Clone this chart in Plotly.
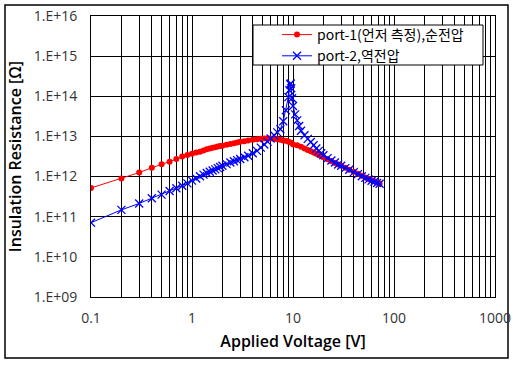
import plotly.graph_objects as go

# ---------------- data ----------------
port1_v = [0.1, 0.2, 0.3, 0.4, 0.5, 0.6, 0.7, 0.8, 0.9, 1.0,
           1.1, 1.2, 1.3, 1.4, 1.5, 1.6, 1.7, 1.8, 1.9, 2.0,
           2.2, 2.4, 2.6, 2.8, 3.0, 3.3, 3.6, 4.0, 4.4, 4.8,
           5.2, 5.6, 6.0, 6.5, 7.0, 7.5, 8.0, 8.5, 9.0, 9.5,
           10, 11, 12, 13, 14, 15, 16, 17, 18, 19,
           20, 22, 24, 26, 28, 30, 33, 36, 40, 44,
           48, 52, 56, 60, 64, 68, 72]
port1_r = [5.2e11, 8.9e11, 1.26e12, 1.66e12, 2.04e12, 2.34e12, 2.75e12, 3.16e12, 3.47e12, 3.72e12,
           3.98e12, 4.17e12, 4.47e12, 4.79e12, 5.01e12, 5.25e12, 5.37e12, 5.62e12, 5.75e12, 5.89e12,
           6.17e12, 6.46e12, 6.76e12, 7.08e12, 7.41e12, 7.59e12, 7.94e12, 8.32e12, 8.51e12, 8.71e12,
           8.91e12, 8.91e12, 8.91e12, 8.71e12, 8.51e12, 8.32e12, 7.94e12, 7.76e12, 7.41e12, 7.08e12,
           6.31e12, 6.03e12, 5.50e12, 5.01e12, 4.57e12, 4.27e12, 3.98e12, 3.72e12, 3.47e12, 3.24e12,
           3.02e12, 2.69e12, 2.40e12, 2.19e12, 2.00e12, 1.86e12, 1.66e12, 1.48e12, 1.32e12, 1.17e12,
           1.05e12, 9.5e11, 8.7e11, 8.1e11, 7.6e11, 7.1e11, 6.6e11]

port2_v = [0.1, 0.2, 0.3, 0.4, 0.5, 0.6, 0.7, 0.8, 0.9, 1.0,
           1.1, 1.2, 1.3, 1.4, 1.5, 1.6, 1.7, 1.8, 1.9, 2.0,
           2.2, 2.4, 2.6, 2.8, 3.0, 3.3, 3.6, 4.0, 4.4, 4.8,
           5.2, 5.6, 6.0, 6.5, 7.0, 7.5, 8.0, 8.5, 9.0, 9.2,
           9.4, 9.5, 9.6, 9.8, 10.0, 10.5, 11, 11.5, 12, 13,
           14, 15, 16, 17, 18, 19, 20, 22, 24, 26,
           28, 30, 33, 36, 40, 44, 48, 52, 56, 60,
           64, 68, 72]
port2_r = [7.1e10, 1.48e11, 2.14e11, 2.88e11, 3.55e11, 4.37e11, 5.13e11, 5.89e11, 6.76e11, 7.94e11,
           8.91e11, 1.02e12, 1.12e12, 1.23e12, 1.32e12, 1.41e12, 1.51e12, 1.62e12, 1.74e12, 1.86e12,
           2.04e12, 2.24e12, 2.40e12, 2.57e12, 2.75e12, 3.02e12, 3.31e12, 3.80e12, 4.37e12, 5.25e12,
           6.31e12, 7.41e12, 8.91e12, 1.07e13, 1.26e13, 1.51e13, 2.40e13, 4.47e13, 9.55e13, 1.41e14,
           2.00e14, 2.09e14, 1.58e14, 8.91e13, 5.75e13, 3.55e13, 2.51e13, 1.82e13, 1.38e13, 1.07e13,
           8.71e12, 7.24e12, 6.03e12, 5.01e12, 4.37e12, 3.80e12, 3.39e12, 2.88e12, 2.51e12, 2.24e12,
           2.00e12, 1.86e12, 1.62e12, 1.48e12, 1.29e12, 1.15e12, 1.02e12, 9.3e11, 8.5e11, 7.9e11,
           7.4e11, 6.9e11, 6.6e11]

x_tick_vals = [0.1, 0.2, 0.3, 0.4, 0.5, 0.6, 0.7, 0.8, 0.9,
               1, 2, 3, 4, 5, 6, 7, 8, 9,
               10, 20, 30, 40, 50, 60, 70, 80, 90,
               100, 200, 300, 400, 500, 600, 700, 800, 900, 1000]
x_tick_text = ["0.1", "", "", "", "", "", "", "", "",
               "1", "", "", "", "", "", "", "", "",
               "10", "", "", "", "", "", "", "", "",
               "100", "", "", "", "", "", "", "", "", "1000"]
y_tick_vals = [1e9, 1e10, 1e11, 1e12, 1e13, 1e14, 1e15, 1e16]
y_tick_text = ["1.E+09", "1.E+10", "1.E+11", "1.E+12", "1.E+13", "1.E+14", "1.E+15", "1.E+16"]

series1_name = "port-1(언저 측정),순전압"
series2_name = "port-2,역전압"
x_title = "Applied Voltage [V]"
y_title = "Insulation Resistance [Ω]"

# ---------------- figure ----------------
W, H = 520, 365
L, R, T, B = 91, 25, 16, 68
pw, ph = W - L - R, H - T - B

def px_x(x):
    return (x - L) / pw

def px_y(y):
    return (H - B - y) / ph

FONT = "Open Sans, Noto Sans CJK KR"
LFONT = "Noto Sans CJK KR"

fig = go.Figure()
fig.add_trace(go.Scatter(
    x=port1_v, y=port1_r, name=series1_name, mode="lines+markers",
    line=dict(color="#ff0000", width=1),
    marker=dict(symbol="circle", size=6, color="#ff0000"),
))
fig.add_trace(go.Scatter(
    x=port2_v, y=port2_r, name=series2_name, mode="lines+markers",
    line=dict(color="#0000ff", width=1),
    marker=dict(symbol="x-thin", size=8, line=dict(color="#0000ff", width=1.3)),
))

fig.update_layout(
    width=W, height=H,
    margin=dict(l=L, r=R, t=T, b=B, autoexpand=False),
    paper_bgcolor="white", plot_bgcolor="white",
    font=dict(family=FONT, size=14, color="#000000"),
    showlegend=True,
    legend=dict(
        x=px_x(277), y=px_y(19), xanchor="left", yanchor="top",
        bgcolor="rgba(0,0,0,0)", borderwidth=0,
        font=dict(family=LFONT, size=14, color="#000000"),
    ),
    shapes=[
        dict(type="rect", xref="paper", yref="paper",
             x0=px_x(5), x1=px_x(508), y0=px_y(358), y1=px_y(5),
             line=dict(color="black", width=1.5), fillcolor="rgba(0,0,0,0)", layer="below"),
        dict(type="rect", xref="paper", yref="paper",
             x0=px_x(253), x1=px_x(483), y0=px_y(65), y1=px_y(25),
             line=dict(color="black", width=1), fillcolor="white", layer="above"),
    ],
)

fig.update_xaxes(
    type="log", range=[-1, 3], automargin=False,
    tickmode="array", tickvals=x_tick_vals, ticktext=x_tick_text,
    showgrid=True, gridcolor="black", gridwidth=1,
    showline=True, linecolor="black", linewidth=1, mirror=True,
    ticks="", ticklabelstandoff=8,
    tickfont=dict(family=FONT, size=14, color="#333333"),
    title=dict(text=x_title, font=dict(family=FONT, size=16, color="black", weight=600), standoff=10),
    zeroline=False,
)
fig.update_yaxes(
    type="log", range=[9, 16], automargin=False,
    tickmode="array", tickvals=y_tick_vals, ticktext=y_tick_text,
    showgrid=True, gridcolor="black", gridwidth=1,
    showline=True, linecolor="black", linewidth=1, mirror=True,
    ticks="", ticklabelstandoff=10,
    tickfont=dict(family=FONT, size=14, color="#333333"),
    title=dict(text=y_title, font=dict(family=FONT, size=16, color="black", weight=600), standoff=8),
    zeroline=False,
)

post = ("document.body.style.margin='0';document.body.style.padding='0';"
        "var gd=document.getElementById('{plot_id}');"
        "gd.style.position='absolute';gd.style.left='0px';gd.style.top='0px';")

fig.write_html("out.html", post_script=post, config={"displayModeBar": False})
